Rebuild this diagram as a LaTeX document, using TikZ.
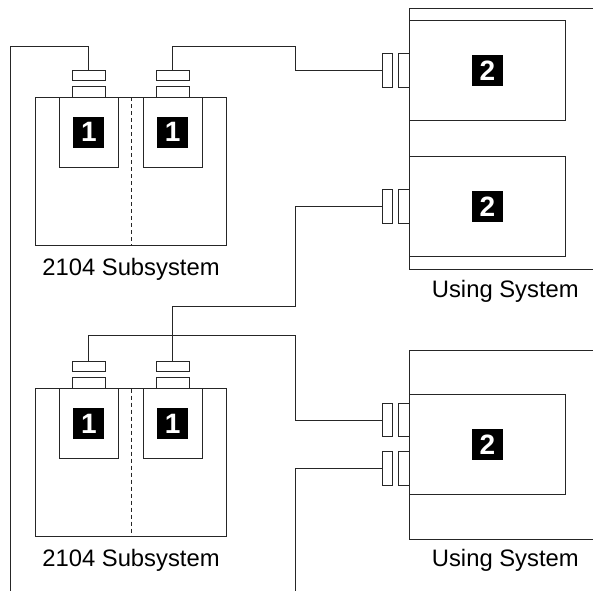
\documentclass[tikz,border=0pt]{standalone}
\usepackage{fontspec}
\setmainfont{Liberation Sans}
\tikzset{
  ln/.style={line width=0.85pt,draw=black!85},
  bx/.style={ln,rectangle,inner sep=0pt,outer sep=0pt,fill=white},
  badge/.style={rectangle,fill=black,text=white,inner sep=0pt,outer sep=0pt,minimum width=31pt,minimum height=31pt,font=\fontsize{28}{28}\selectfont\bfseries},
  lbl/.style={inner sep=0pt,outer sep=0pt,anchor=base,font=\fontsize{23.8}{24}\selectfont},
  wire/.style={ln,line join=miter}
}
% name, x1, y1, x2, y2
\newcommand{\bxn}[5]{\node[bx,minimum width={(#4)-(#2)},minimum height={(#5)-(#3)}] (#1) at ({((#2)+(#4))/2},{((#3)+(#5))/2}) {};}
\newcommand{\subsys}[3]{% prefix, y offset, label
  \bxn{#1o}{35.3}{97.3+#2}{226.5}{245.5+#2}
  \bxn{#1ia}{59}{97.3+#2}{118.5}{167+#2}
  \bxn{#1ib}{143}{97.3+#2}{202.5}{167+#2}
  \bxn{#1la}{72.3}{86.5+#2}{105.5}{97.3+#2}
  \bxn{#1ua}{72.3}{70.2+#2}{105.5}{80.5+#2}
  \bxn{#1lb}{156.3}{86.5+#2}{189.5}{97.3+#2}
  \bxn{#1ub}{156.3}{70.2+#2}{189.5}{80.5+#2}
  \node[badge] (#1ba) at (88.8,132+#2) {1};
  \node[badge] (#1bb) at (172.6,132+#2) {1};
  \coordinate (#1dt) at (131,97.3+#2);
  \coordinate (#1db) at (131,245.5+#2);
  \draw[ln,dashed,dash pattern=on 4pt off 3pt] (#1dt) -- (#1db);
  \node[lbl] (#1t) at (131,275+#2) {#3};
}
% prefix, y1, y2 : connector pair
\newcommand{\conn}[3]{%
  \bxn{#1o}{382}{#2}{392.7}{#3}
  \bxn{#1i}{398.3}{#2}{409}{#3}
}
\begin{document}
\begin{tikzpicture}[x=1pt,y=-1pt]
\useasboundingbox (0,0) rectangle (593,591);
% subsystems
\subsys{a}{0}{2104 Subsystem}
\subsys{b}{291.4}{2104 Subsystem}
% using systems
\coordinate (u1a) at (593,8); \coordinate (u1b) at (409,8);
\coordinate (u1c) at (409,269); \coordinate (u1d) at (593,269);
\draw[ln] (u1a) -- (u1b) -- (u1c) -- (u1d);
\coordinate (u2a) at (593,350.3); \coordinate (u2b) at (409,350.3);
\coordinate (u2c) at (409,539.7); \coordinate (u2d) at (593,539.7);
\draw[ln] (u2a) -- (u2b) -- (u2c) -- (u2d);
\bxn{c1}{409}{20.5}{565.3}{120.5}
\bxn{c2}{409}{156.5}{565.3}{256}
\bxn{c3}{409}{394.3}{565.3}{494}
\node[badge] (s1) at (487.4,70.5) {2};
\node[badge] (s2) at (487.4,206.5) {2};
\node[badge] (s3) at (487.4,444.3) {2};
\conn{p}{53.7}{87}
\conn{q}{189.5}{223}
\conn{r}{403.3}{436.7}
\conn{s}{451.7}{485}
\node[lbl] (us1) at (505.3,297.7) {Using System};
\node[lbl] (us2) at (505.3,566) {Using System};
% wires
\coordinate (w1) at (10.7,46.7); \coordinate (w1e) at (10.7,591);
\draw[wire] (aua.north) |- (w1) -- (w1e);
\coordinate (w2) at (295.7,46.7);
\draw[wire] (aub.north) |- (w2) |- (po.west);
\coordinate (w3) at (295.7,306);
\draw[wire] (qo.west) -| (w3) -| (bub.north);
\coordinate (w4) at (295.7,335.3);
\draw[wire] (bua.north) |- (w4) |- (ro.west);
\coordinate (w5) at (295.7,591);
\draw[wire] (so.west) -| (w5);
\end{tikzpicture}
\end{document}
